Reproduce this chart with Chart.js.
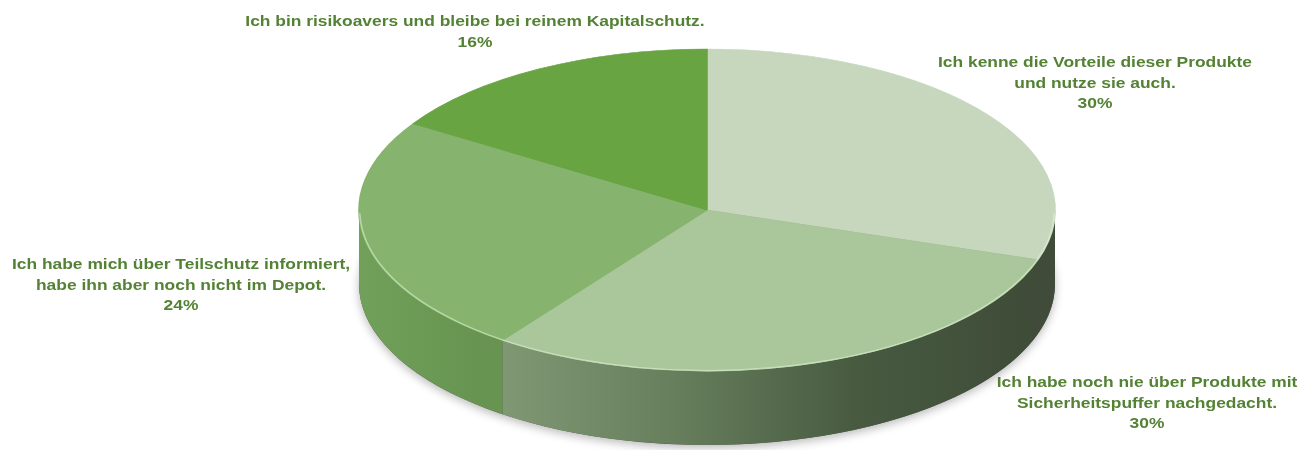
<!DOCTYPE html>
<html>
<head>
<meta charset="utf-8">
<script src="https://cdn.jsdelivr.net/npm/chart.js@4.4.0/dist/chart.umd.min.js"></script>
<style>
  html, body { margin: 0; padding: 0; background: #fff; }
  #wrap { width: 1312px; height: 450px; }
</style>
</head>
<body>
<div id="wrap"><canvas id="chart" width="1312" height="450"></canvas></div>
<script>
// data
const categories = [
  "Ich kenne die Vorteile dieser Produkte\nund nutze sie auch.",
  "Ich habe noch nie über Produkte mit\nSicherheitspuffer nachgedacht.",
  "Ich habe mich über Teilschutz informiert,\nhabe ihn aber noch nicht im Depot.",
  "Ich bin risikoavers und bleibe bei reinem Kapitalschutz."
];
const values = [30, 30, 24, 16];

// look
const topColors = ["#c6d7bd", "#a9c79a", "#86b46e", "#68a442"];
const sideStops = [
  [[0, "#404c39"], [1, "#404c39"]],
  [[0, "#87a07a"], [0.16, "#849c77"], [0.45, "#677f5d"], [0.72, "#475a40"], [1, "#3e4a37"]],
  [[0, "#70a05a"], [0.17, "#679551"], [1, "#679551"]],
  [[0, "#5a8c3a"], [1, "#5a8c3a"]]
];
const labelPos = [[1095, 63], [1147, 383], [181, 265], [475, 22]];

// 3d geometry on the page
const CX = 707, CY = 210, RX = 348, RY = 161, DEPTH = 74;
const TEXT_STRETCH = 1.16;

function applyTilt(ctx, arc) {
  const r = arc.outerRadius;
  ctx.translate(CX, CY);
  ctx.scale(RX / r, RY / r);
  ctx.translate(-arc.x, -arc.y);
}

// only the front half (0..PI) of a slice shows its side
function frontRanges(s, e) {
  const out = [];
  [0, 2 * Math.PI, -2 * Math.PI].forEach(o => {
    const a = Math.max(s, o), b = Math.min(e, o + Math.PI);
    if (b > a) out.push([a, b]);
  });
  return out;
}

const pie3d = {
  id: "pie3d",
  beforeDatasetsDraw(chart) {
    const ctx = chart.ctx;
    const arcs = chart.getDatasetMeta(0).data;
    const a0 = arcs[0];
    const r = a0.outerRadius;
    const dU = DEPTH * r / RY;
    ctx.save();
    applyTilt(ctx, a0);

    // soft shadow under the cake
    ctx.save();
    ctx.shadowColor = "rgba(0,0,0,0.28)";
    ctx.shadowBlur = 10;
    ctx.shadowOffsetY = 3;
    ctx.fillStyle = "#555";
    ctx.beginPath();
    ctx.arc(a0.x, a0.y + dU, r, 0, Math.PI * 2);
    ctx.fill();
    ctx.restore();

    arcs.forEach((arc, i) => {
      frontRanges(arc.startAngle, arc.endAngle).forEach(([a, b]) => {
        const g = ctx.createLinearGradient(arc.x - r, 0, arc.x + r, 0);
        sideStops[i].forEach(([t, c]) => g.addColorStop(t, c));
        ctx.fillStyle = g;
        ctx.beginPath();
        ctx.arc(arc.x, arc.y, r, a, b);
        ctx.lineTo(arc.x + r * Math.cos(b), arc.y + r * Math.sin(b) + dU);
        ctx.arc(arc.x, arc.y + dU, r, b, a, true);
        ctx.closePath();
        ctx.fill();
      });
    });
  },
  afterDatasetsDraw(chart) {
    const ctx = chart.ctx;
    ctx.restore();
    const a0 = chart.getDatasetMeta(0).data[0];
    // light bevel on the front rim
    ctx.save();
    applyTilt(ctx, a0);
    ctx.beginPath();
    ctx.arc(a0.x, a0.y, a0.outerRadius - 0.5, 0.02, Math.PI - 0.02);
    ctx.restore();
    ctx.save();
    ctx.strokeStyle = "rgba(225,245,215,0.55)";
    ctx.lineWidth = 1.5;
    ctx.stroke();
    ctx.restore();
  },
  afterDraw(chart) {
    const ctx = chart.ctx;
    const total = values.reduce((s, v) => s + v, 0);
    ctx.save();
    ctx.font = 'bold 15px "Liberation Sans", Arial, sans-serif';
    ctx.fillStyle = "#548235";
    ctx.textAlign = "center";
    ctx.textBaseline = "middle";
    categories.forEach((c, i) => {
      const lines = c.split("\n").concat(Math.round(values[i] / total * 100) + "%");
      lines.forEach((ln, k) => {
        ctx.save();
        ctx.translate(labelPos[i][0], labelPos[i][1] + k * 20.5);
        ctx.scale(TEXT_STRETCH, 1);
        ctx.fillText(ln, 0, 0);
        ctx.restore();
      });
    });
    ctx.restore();
  }
};

new Chart(document.getElementById("chart"), {
  type: "pie",
  data: {
    labels: categories,
    datasets: [{
      data: values,
      backgroundColor: topColors,
      borderColor: topColors,
      borderWidth: 1
    }]
  },
  options: {
    responsive: false,
    animation: false,
    events: [],
    clip: false,
    plugins: {
      legend: { display: false },
      tooltip: { enabled: false }
    }
  },
  plugins: [pie3d]
});
</script>
</body>
</html>
